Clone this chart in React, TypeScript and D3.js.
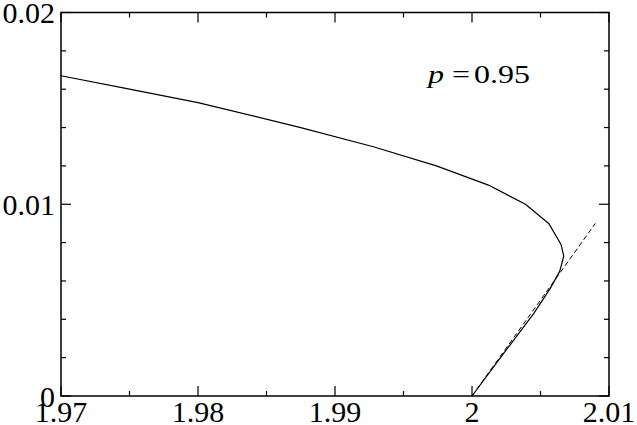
import React, { useEffect, useRef } from "react";
import * as d3 from "d3";

// solid curve (x, y)
const curveX = [1.97, 1.975, 1.98, 1.9875, 1.9928, 1.9974, 2.0012, 2.0039, 2.0056, 2.0065, 2.0067, 2.0064, 2.0057, 2.0045, 2.0025, 2.0];
const curveY = [0.0167, 0.0160, 0.0153, 0.0140, 0.0130, 0.0120, 0.0110, 0.0100, 0.0090, 0.0079, 0.0073, 0.0065, 0.0056, 0.0043, 0.0024, 0.0];

// dashed asymptote
const dashX = [2.0, 2.009];
const dashY = [0.0, 0.009];

const xTicks = [1.97, 1.98, 1.99, 2.0, 2.01];
const xTickLabels = ["1.97", "1.98", "1.99", "2", "2.01"];
const xMinor = [1.975, 1.985, 1.995, 2.005];
const yTicks = [0, 0.01, 0.02];
const yTickLabels = ["0", "0.01", "0.02"];
const yMinor = [0.002, 0.004, 0.006, 0.008, 0.012, 0.014, 0.016, 0.018];

const W = 637;
const H = 425;
const FONT = "'Liberation Serif', 'Times New Roman', serif";

const App = () => {
  const svgRef = useRef<SVGSVGElement | null>(null);

  useEffect(() => {
    if (!svgRef.current) return;
    const svg = d3.select(svgRef.current);
    svg.selectAll("*").remove();

    const left = 61, right = 609, top = 12.5, bottom = 396;
    const x = d3.scaleLinear().domain([1.97, 2.01]).range([left, right]);
    const y = d3.scaleLinear().domain([0, 0.02]).range([bottom, top]);

    svg.append("rect").attr("width", W).attr("height", H).attr("fill", "white");

    const line = d3.line<[number, number]>().x(d => x(d[0])).y(d => y(d[1]));

    // curves
    svg.append("path")
      .attr("d", line(curveX.map((v, i) => [v, curveY[i]]) as [number, number][]))
      .attr("fill", "none")
      .attr("stroke", "black")
      .attr("stroke-width", 1.2)
      .attr("stroke-linejoin", "round");

    svg.append("path")
      .attr("d", line(dashX.map((v, i) => [v, dashY[i]]) as [number, number][]))
      .attr("fill", "none")
      .attr("stroke", "black")
      .attr("stroke-width", 1)
      .attr("stroke-dasharray", "5,3");

    // frame
    svg.append("rect")
      .attr("x", left).attr("y", top)
      .attr("width", right - left).attr("height", bottom - top)
      .attr("fill", "none")
      .attr("stroke", "black")
      .attr("stroke-width", 1.5);

    const tick = (x1: number, y1: number, x2: number, y2: number) =>
      svg.append("line")
        .attr("x1", x1).attr("y1", y1).attr("x2", x2).attr("y2", y2)
        .attr("stroke", "black").attr("stroke-width", 1.2);

    // ticks point inward on all four sides
    xTicks.forEach(t => {
      tick(x(t), bottom, x(t), bottom - 10);
      tick(x(t), top, x(t), top + 10);
    });
    xMinor.forEach(t => {
      tick(x(t), bottom, x(t), bottom - 5);
      tick(x(t), top, x(t), top + 5);
    });
    yTicks.forEach(t => {
      tick(left, y(t), left + 10, y(t));
      tick(right, y(t), right - 10, y(t));
    });
    yMinor.forEach(t => {
      tick(left, y(t), left + 5, y(t));
      tick(right, y(t), right - 5, y(t));
    });

    // tick labels
    svg.append("g").selectAll("text")
      .data(xTicks)
      .enter()
      .append("text")
      .attr("x", d => x(d))
      .attr("y", 422)
      .attr("text-anchor", "middle")
      .attr("font-family", FONT)
      .attr("font-size", 30)
      .attr("fill", "black")
      .text((d, i) => xTickLabels[i]);

    svg.append("g").selectAll("text")
      .data(yTicks)
      .enter()
      .append("text")
      .attr("x", 55)
      .attr("y", d => y(d) + 10.5)
      .attr("text-anchor", "end")
      .attr("font-family", FONT)
      .attr("font-size", 30)
      .attr("fill", "black")
      .text((d, i) => yTickLabels[i]);

    // annotation (glyphs in the original are a bit wide, hence the x-stretch)
    const ann = svg.append("text")
      .attr("transform", "translate(428,83) scale(1.23,1)")
      .attr("font-family", FONT)
      .attr("font-size", 26)
      .attr("fill", "black");
    ann.append("tspan").attr("x", 0).attr("font-style", "italic").text("p");
    ann.append("tspan").attr("x", 19.5).text("=");
    ann.append("tspan").attr("x", 37.4).text("0.95");
  }, []);

  return (
    <svg
      ref={svgRef}
      width={W}
      height={H}
      viewBox={`0 0 ${W} ${H}`}
      style={{ position: "absolute", left: 0, top: 0, display: "block" }}
    />
  );
};

export default App;
